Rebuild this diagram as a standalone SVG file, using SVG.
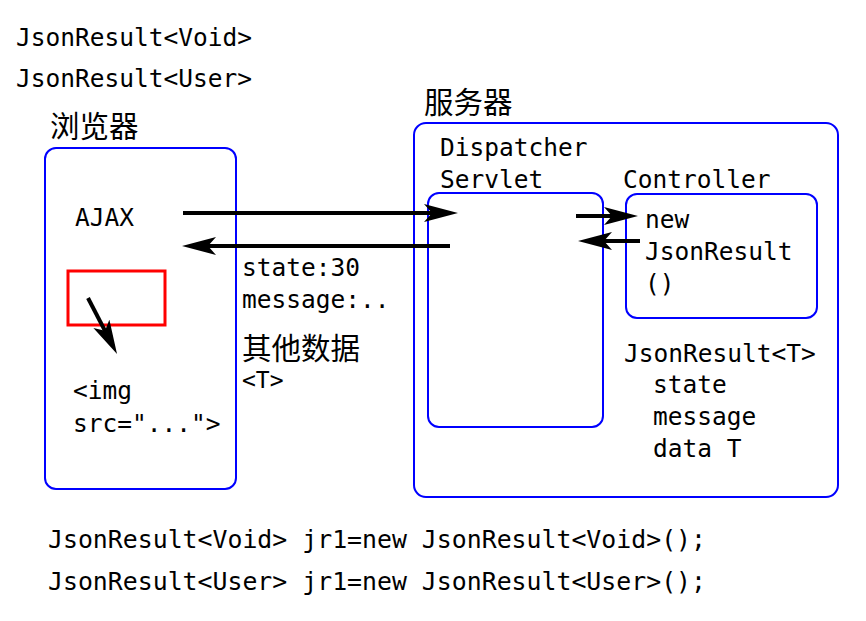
<svg xmlns="http://www.w3.org/2000/svg" width="866" height="621" viewBox="0 0 866 621">
<defs>
<style>
.m{font-family:"DejaVu Sans Mono","Liberation Mono",monospace;font-size:24.5px;fill:#000}
.c{font-family:"Noto Sans CJK SC",sans-serif;font-size:29.5px;fill:#000}
.box{fill:none;stroke:#0000ff;stroke-width:2}
.ar{fill:none;stroke:#000;stroke-width:4;marker-end:url(#ah)}
</style>
<marker id="ah" markerUnits="userSpaceOnUse" markerWidth="36" markerHeight="20" refX="22" refY="9" orient="auto">
<path d="M0,0 L34,9 L0,18 L8,9 z" fill="#000"/>
</marker>
</defs>
<rect width="866" height="621" fill="#fff"/>
<text class="m" x="16" y="46">JsonResult&lt;Void&gt;</text>
<text class="m" x="16" y="87">JsonResult&lt;User&gt;</text>
<g id="browser">
<text class="c" x="50" y="137">浏览器</text>
<rect class="box" x="45" y="148" width="191" height="341" rx="11"/>
<text class="m" x="75" y="226">AJAX</text>
<rect x="68" y="271" width="97" height="54" fill="none" stroke="#ff0000" stroke-width="3"/>
<text class="m" x="73" y="399">&lt;img</text>
<text class="m" x="73" y="432">src="..."&gt;</text>
</g>
<g id="server">
<text class="c" x="424" y="113">服务器</text>
<rect class="box" x="414" y="123" width="424" height="374" rx="12"/>
</g>
<g id="dispatcher">
<text class="m" x="440" y="156">Dispatcher</text>
<text class="m" x="440" y="188">Servlet</text>
<rect class="box" x="428" y="193" width="175" height="234" rx="11"/>
</g>
<g id="controller">
<text class="m" x="623" y="188">Controller</text>
<rect class="box" x="626" y="194" width="191" height="124" rx="11"/>
<text class="m" x="645" y="228">new</text>
<text class="m" x="645" y="260">JsonResult</text>
<text class="m" x="645" y="292">()</text>
</g>
<g id="jsonresult">
<text class="m" x="624" y="362">JsonResult&lt;T&gt;</text>
<text class="m" x="653" y="393">state</text>
<text class="m" x="653" y="425">message</text>
<text class="m" x="653" y="457">data T</text>
</g>
<g id="response">
<text class="m" x="242" y="276">state:30</text>
<text class="m" x="242" y="308">message:..</text>
<text class="c" x="242" y="359">其他数据</text>
<text class="m" x="242" y="388" style="font-size:23px">&lt;T&gt;</text>
</g>
<g id="connectors">
<path class="ar" d="M183,213 L446,213"/>
<path class="ar" d="M450,246 L194,246"/>
<path class="ar" d="M576,216 L626,216"/>
<path class="ar" d="M640,241 L590,241"/>
<path class="ar" d="M88,298 L111.5,343.3"/>
</g>
<text class="m" x="48" y="548" textLength="658" lengthAdjust="spacingAndGlyphs">JsonResult&lt;Void&gt; jr1=new JsonResult&lt;Void&gt;();</text>
<text class="m" x="48" y="590" textLength="658" lengthAdjust="spacingAndGlyphs">JsonResult&lt;User&gt; jr1=new JsonResult&lt;User&gt;();</text>
</svg>
